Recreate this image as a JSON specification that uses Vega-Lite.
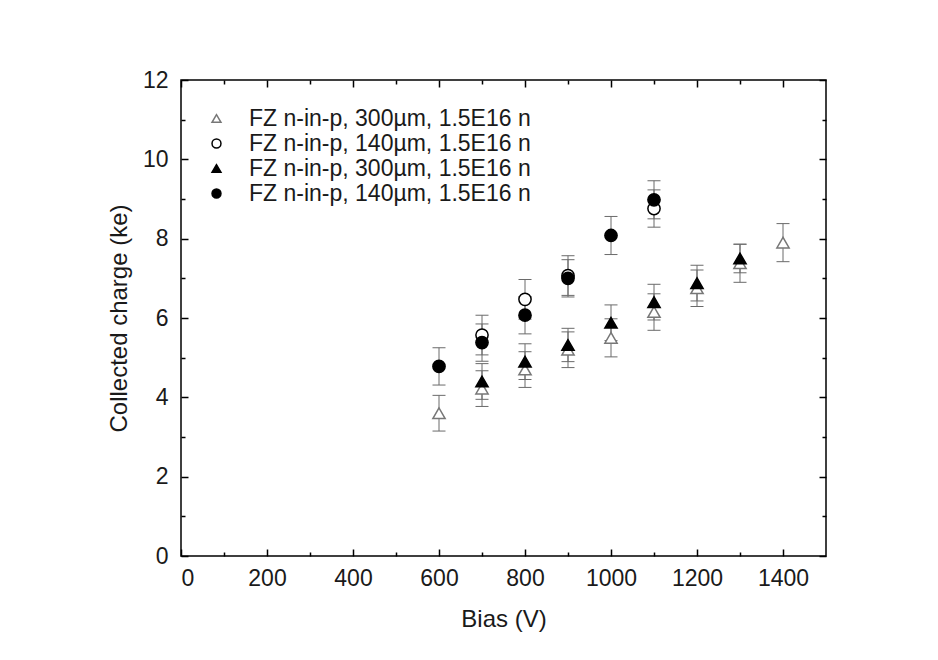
{
  "$schema": "https://vega.github.io/schema/vega-lite/v6.json",
  "width": 645,
  "height": 476,
  "autosize": {"type": "none"},
  "padding": {"left": 181, "top": 80, "right": 112, "bottom": 104},
  "background": "white",
  "config": {
    "view": {"stroke": "black", "strokeWidth": 1.5},
    "axis": {
      "labelFont": "Liberation Sans",
      "titleFont": "Liberation Sans",
      "labelColor": "#1a1a1a",
      "titleColor": "#1a1a1a",
      "labelFontSize": 23,
      "titleFontSize": 24,
      "titleFontWeight": "normal",
      "grid": false,
      "domain": false,
      "tickColor": "black",
      "tickWidth": 1.5
    },
    "legend": {
      "orient": "none",
      "legendX": 24,
      "legendY": 27,
      "padding": 0,
      "labelFont": "Liberation Sans",
      "labelFontSize": 23,
      "labelColor": "#1a1a1a",
      "labelLimit": 0,
      "symbolSize": 80,
      "symbolStrokeWidth": 1.5,
      "rowPadding": 1,
      "labelOffset": 21,
      "title": null
    }
  },
  "data": {
    "values": [
      {"series": "A", "bias": 600, "charge": 3.6, "lo": 3.15, "hi": 4.05},
      {"series": "A", "bias": 700, "charge": 4.22, "lo": 3.77, "hi": 4.67},
      {"series": "A", "bias": 800, "charge": 4.7, "lo": 4.25, "hi": 5.15},
      {"series": "A", "bias": 900, "charge": 5.2, "lo": 4.75, "hi": 5.65},
      {"series": "A", "bias": 1000, "charge": 5.5, "lo": 5.02, "hi": 5.98},
      {"series": "A", "bias": 1100, "charge": 6.15, "lo": 5.69, "hi": 6.61},
      {"series": "A", "bias": 1200, "charge": 6.75, "lo": 6.29, "hi": 7.21},
      {"series": "A", "bias": 1300, "charge": 7.38, "lo": 6.9, "hi": 7.86},
      {"series": "A", "bias": 1400, "charge": 7.9, "lo": 7.42, "hi": 8.38},
      {"series": "B", "bias": 700, "charge": 5.57, "lo": 5.07, "hi": 6.07},
      {"series": "B", "bias": 800, "charge": 6.47, "lo": 5.97, "hi": 6.97},
      {"series": "B", "bias": 900, "charge": 7.07, "lo": 6.57, "hi": 7.57},
      {"series": "B", "bias": 1100, "charge": 8.76, "lo": 8.29, "hi": 9.23},
      {"series": "C", "bias": 700, "charge": 4.4, "lo": 3.95, "hi": 4.85},
      {"series": "C", "bias": 800, "charge": 4.9, "lo": 4.45, "hi": 5.35},
      {"series": "C", "bias": 900, "charge": 5.32, "lo": 4.9, "hi": 5.74},
      {"series": "C", "bias": 1000, "charge": 5.88, "lo": 5.43, "hi": 6.33},
      {"series": "C", "bias": 1100, "charge": 6.4, "lo": 5.95, "hi": 6.85},
      {"series": "C", "bias": 1200, "charge": 6.88, "lo": 6.43, "hi": 7.33},
      {"series": "C", "bias": 1300, "charge": 7.5, "lo": 7.14, "hi": 7.86},
      {"series": "D", "bias": 600, "charge": 4.78, "lo": 4.31, "hi": 5.25},
      {"series": "D", "bias": 700, "charge": 5.38, "lo": 4.91, "hi": 5.85},
      {"series": "D", "bias": 800, "charge": 6.07, "lo": 5.6, "hi": 6.54},
      {"series": "D", "bias": 900, "charge": 7.0, "lo": 6.53, "hi": 7.47},
      {"series": "D", "bias": 1000, "charge": 8.08, "lo": 7.6, "hi": 8.56},
      {"series": "D", "bias": 1100, "charge": 8.98, "lo": 8.5, "hi": 9.46}
    ]
  },
  "layer": [
    {
      "mark": {"type": "rule", "color": "#6a6a6a", "strokeWidth": 1},
      "encoding": {
        "x": {
          "field": "bias", "type": "quantitative",
          "scale": {"domain": [0, 1500], "nice": false, "zero": false},
          "axis": {"orient": "bottom", "values": [0, 200, 400, 600, 800, 1000, 1200, 1400], "format": "d", "tickSize": -7, "labelPadding": 18, "title": "Bias (V)", "titlePadding": 17}
        },
        "y": {
          "field": "lo", "type": "quantitative",
          "scale": {"domain": [0, 12], "nice": false, "zero": false},
          "axis": {"orient": "left", "values": [0, 2, 4, 6, 8, 10, 12], "format": "d", "tickSize": -7, "labelPadding": 20, "title": "Collected charge (ke)", "titlePadding": 11}
        },
        "y2": {"field": "hi"}
      }
    },
    {
      "mark": {"type": "tick", "orient": "horizontal", "color": "#6a6a6a", "size": 13, "thickness": 1, "opacity": 1},
      "encoding": {
        "x": {
          "field": "bias", "type": "quantitative",
          "scale": {"domain": [0, 1500], "nice": false, "zero": false},
          "axis": {"orient": "bottom", "values": [100, 300, 500, 700, 900, 1100, 1300], "tickSize": -4, "labels": false, "title": null}
        },
        "y": {
          "field": "hi", "type": "quantitative",
          "scale": {"domain": [0, 12], "nice": false, "zero": false},
          "axis": {"orient": "left", "values": [1, 3, 5, 7, 9, 11], "tickSize": -4, "labels": false, "title": null}
        }
      }
    },
    {
      "mark": {"type": "tick", "orient": "horizontal", "color": "#6a6a6a", "size": 13, "thickness": 1, "opacity": 1},
      "encoding": {
        "x": {
          "field": "bias", "type": "quantitative",
          "scale": {"domain": [0, 1500], "nice": false, "zero": false},
          "axis": {"orient": "top", "values": [0, 200, 400, 600, 800, 1000, 1200, 1400], "tickSize": -7, "labels": false, "title": null}
        },
        "y": {
          "field": "lo", "type": "quantitative",
          "scale": {"domain": [0, 12], "nice": false, "zero": false},
          "axis": {"orient": "right", "values": [0, 2, 4, 6, 8, 10, 12], "tickSize": -7, "labels": false, "title": null}
        }
      }
    },
    {
      "mark": {"type": "point", "size": 150, "opacity": 1, "fillOpacity": 1, "strokeWidth": 1.5},
      "encoding": {
        "x": {
          "field": "bias", "type": "quantitative",
          "scale": {"domain": [0, 1500], "nice": false, "zero": false},
          "axis": {"orient": "top", "values": [100, 300, 500, 700, 900, 1100, 1300], "tickSize": -4, "labels": false, "title": null}
        },
        "y": {
          "field": "charge", "type": "quantitative",
          "scale": {"domain": [0, 12], "nice": false, "zero": false},
          "axis": {"orient": "right", "values": [1, 3, 5, 7, 9, 11], "tickSize": -4, "labels": false, "title": null}
        },
        "shape": {
          "field": "series", "type": "nominal",
          "scale": {"domain": ["A", "B", "C", "D"], "range": ["triangle-up", "circle", "triangle-up", "circle"]},
          "legend": {"labelExpr": "datum.value == 'A' || datum.value == 'C' ? 'FZ n-in-p, 300µm, 1.5E16 n' : 'FZ n-in-p, 140µm, 1.5E16 n'"}
        },
        "fill": {
          "field": "series", "type": "nominal",
          "scale": {"domain": ["A", "B", "C", "D"], "range": ["white", "white", "black", "black"]},
          "legend": {"labelExpr": "datum.value == 'A' || datum.value == 'C' ? 'FZ n-in-p, 300µm, 1.5E16 n' : 'FZ n-in-p, 140µm, 1.5E16 n'"}
        },
        "stroke": {
          "field": "series", "type": "nominal",
          "scale": {"domain": ["A", "B", "C", "D"], "range": ["#777777", "black", "black", "black"]},
          "legend": {"labelExpr": "datum.value == 'A' || datum.value == 'C' ? 'FZ n-in-p, 300µm, 1.5E16 n' : 'FZ n-in-p, 140µm, 1.5E16 n'"}
        }
      }
    }
  ],
  "resolve": {"axis": {"x": "independent", "y": "independent"}}
}
